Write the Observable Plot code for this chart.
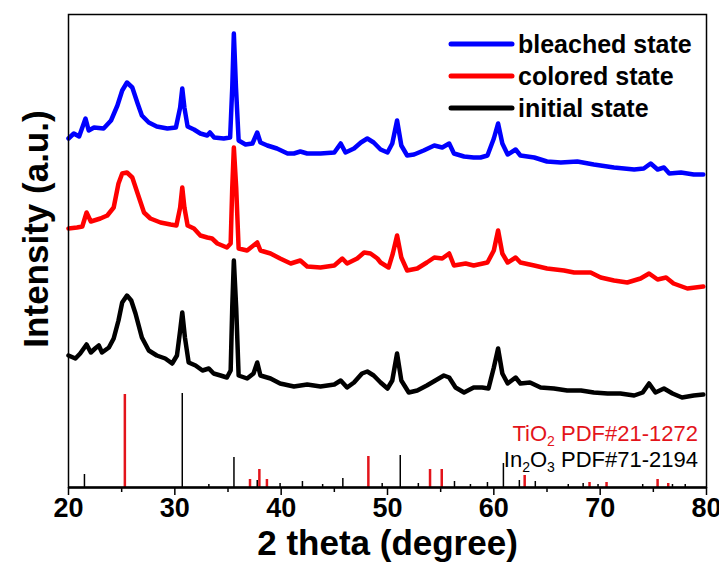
<!DOCTYPE html>
<html><head><meta charset="utf-8">
<script src="https://cdn.jsdelivr.net/npm/d3@7"></script>
<script src="https://cdn.jsdelivr.net/npm/@observablehq/plot@0.6"></script>
<style>body{margin:0;background:#fff}</style>
</head><body><div id="chart"></div>
<script>
// Series names
const seriesNames = ["bleached state", "colored state", "initial state"];
const seriesColors = ["#0000ff", "#ff0000", "#000000"];

// Bleached state (blue)
const blueTheta = [20.0,20.5,21.0,21.6,21.9,22.4,23.3,24.0,24.6,25.05,25.5,26.0,26.5,26.9,27.55,28.3,29.3,30.1,30.5,30.7,30.9,31.2,31.8,32.4,33.05,33.3,33.7,34.6,35.2,35.4,35.55,35.75,36.0,36.65,37.3,37.75,38.05,38.7,39.6,40.6,41.2,41.8,42.45,43.7,45.0,45.6,46.05,46.85,47.5,48.1,48.7,49.35,50.0,50.45,50.9,51.3,51.85,52.5,53.4,54.4,55.15,55.8,56.25,57.2,58.1,58.75,59.4,60.0,60.4,60.8,61.3,62.05,62.5,63.8,65.0,66.3,67.85,69.4,71.3,73.2,74.1,74.75,75.4,76.0,76.5,77.6,78.8,79.7];
const blueI = [349,354,351,369,357,360,359,367,382,397,405,400,384,372,365,361,359,360,380,399,380,361,358,354,352,355,350,349,350,400,454,400,347,343,344,355,345,342,339,334,334,336,334,334,335,344,335,339,345,349,345,338,335,344,367,342,332,333,337,342,340,344,334,331,330,330,332,349,364,344,333,338,332,330,326,325,326,323,320,318,319,324,318,320,314,315,313,313];

// Colored state (red)
const redTheta = [20.0,20.8,21.3,21.7,22.1,23.0,23.65,24.25,24.7,25.05,25.5,26.0,26.5,27.1,27.7,28.65,29.6,30.15,30.5,30.7,30.9,31.2,31.8,32.4,33.05,33.5,34.0,34.9,35.25,35.4,35.55,35.77,36.0,36.8,37.75,38.05,39.0,39.9,40.9,41.8,42.45,43.7,45.0,45.75,46.2,47.15,47.8,48.4,49.05,49.35,50.1,50.5,50.9,51.3,51.85,52.8,53.7,54.4,55.15,55.8,56.25,57.35,58.1,59.4,60.0,60.4,60.8,61.3,62.05,62.5,63.8,65.0,66.6,67.55,69.1,70.05,71.3,72.55,73.8,74.6,75.4,76.2,76.9,78.2,79.7];
const redI = [259,260,261,275,266,269,272,280,304,314,315,310,294,275,269,265,263,262,280,300,280,262,259,252,250,249,244,240,244,300,340,300,239,237,245,237,234,229,224,227,221,220,222,229,224,229,235,234,229,225,220,234,252,230,217,219,225,230,229,234,222,224,222,225,237,257,234,225,230,225,222,219,217,215,215,210,207,205,209,214,208,210,204,199,201];

// Initial state (black)
const blackTheta = [20.0,20.65,21.1,21.7,22.1,22.5,22.85,23.15,23.8,24.25,24.7,25.05,25.5,25.9,26.3,26.9,27.55,28.3,29.1,29.75,30.2,30.5,30.7,30.95,31.3,31.95,32.6,33.2,33.65,34.3,34.9,35.25,35.4,35.55,35.77,36.0,36.8,37.4,37.75,38.05,39.0,39.9,41.2,42.45,43.7,45.0,45.6,46.2,46.85,47.6,48.1,48.7,49.35,50.0,50.45,50.9,51.3,52.0,52.8,53.7,54.5,55.3,55.8,56.4,57.2,58.1,58.9,59.5,60.0,60.4,60.8,61.3,62.05,62.5,63.4,64.4,65.65,66.9,68.2,69.4,70.7,71.9,73.2,74.0,74.6,75.2,76.0,76.8,77.7,78.8,79.7];
const blackI = [132,129,134,143,135,139,142,135,140,149,167,185,192,187,174,150,137,132,129,124,132,157,175,150,125,122,117,119,114,112,110,117,180,227,180,112,109,114,125,112,109,104,101,103,101,103,107,100,105,114,116,112,105,99,107,134,107,95,97,102,107,112,110,100,95,100,100,99,120,139,114,104,110,104,105,100,99,97,97,95,94,94,92,95,104,95,99,94,90,92,93];

// Reference patterns
const tio2Theta = [25.3,37.07,37.95,38.66,48.2,54.0,55.1,62.9,69.0,70.6,75.4,76.4];
const tio2I = [93,8,18,8,31,18,18,12,5,5,8,4];
const in2o3Theta = [21.5,30.7,33.2,35.56,37.75,39.9,42.0,43.9,45.8,49.5,51.2,52.9,56.3,57.8,59.4,60.9,62.4,63.9,67.0,68.4,69.8,74.0,76.8,78.0];
const in2o3I = [13,94,3,30,7,4,6,3,9,4,32,4,6,3,5,24,7,6,3,4,3,3,3,3];

const majorTicks = [20,30,40,50,60,70,80];
const minorTicks = [25,35,45,55,65,75];

const toRows = (xs, ys, name) => xs.map((x, i) => ({theta: x, I: ys[i], series: name}));
const curves = [
  ...toRows(blueTheta, blueI, seriesNames[0]),
  ...toRows(redTheta, redI, seriesNames[1]),
  ...toRows(blackTheta, blackI, seriesNames[2])
];
const tio2 = toRows(tio2Theta, tio2I, "TiO2");
const in2o3 = toRows(in2o3Theta, in2o3I, "In2O3");

const sans = "'Liberation Sans', Arial, sans-serif";

const chart = Plot.plot({
  width: 719, height: 564,
  marginLeft: 68, marginRight: 13, marginTop: 14, marginBottom: 77,
  style: {fontFamily: sans, background: "#fff"},
  x: {domain: [20, 80]},
  y: {domain: [0, 473], axis: null},
  color: {domain: seriesNames, range: seriesColors},
  marks: [
    Plot.ruleX(in2o3, {x: "theta", y1: 0, y2: "I", stroke: "#000", strokeWidth: 1.5}),
    Plot.ruleX(tio2, {x: "theta", y1: 0, y2: "I", stroke: "#e3141b", strokeWidth: 2.5}),
    Plot.line(curves, {x: "theta", y: "I", z: "series", stroke: "series", strokeWidth: 4.5, strokeLinejoin: "round", strokeLinecap: "round"}),
    Plot.frame({stroke: "#000", strokeWidth: 1.5}),
    Plot.ruleY([0], {stroke: "#000", strokeWidth: 2.5}),
    Plot.axisX({ticks: minorTicks, tickSize: 5, text: null, label: null, strokeWidth: 1.5}),
    Plot.axisX({ticks: majorTicks, tickSize: 8, tickPadding: 2, tickFormat: d => String(d), label: null,
      fontSize: 27, fontWeight: "bold", fill: "#000", strokeWidth: 1.5, ariaLabel: "xticks"}),
    Plot.text(["2 theta (degree)"], {frameAnchor: "bottom", dy: 67, text: d => d, ariaLabel: "xtitle",
      fontSize: 35, fontWeight: "bold", fill: "#000"}),
    Plot.text(["Intensity (a.u.)"], {frameAnchor: "left", dx: -32, dy: -22, rotate: -90, textAnchor: "middle", text: d => d,
      fontSize: 35, fontWeight: "bold", fill: "#000"})
  ]
});
document.getElementById("chart").appendChild(chart);

const svg = d3.select(chart);

// Narrow-looking bold text, as in the reference
function squeeze(sel, k, shift) {
  sel.each(function (d, i, nodes) {
    const x = +this.getAttribute("x") || 0, y = +this.getAttribute("y") || 0;
    const t = this.getAttribute("transform") || "";
    const s = shift ? shift(i, nodes.length) : 0;
    this.setAttribute("transform", `${t} translate(${x + s},${y}) scale(${k},1) translate(${-x},${-y})`);
  });
}
// keep the last tick label ("80") inside the picture edge
squeeze(svg.selectAll('g[aria-label="xticks"] text'), 0.8, (i, n) => (i === n - 1 ? -2 : 0));
squeeze(svg.selectAll('g[aria-label="xtitle"] text'), 0.92);

// Legend
const legend = svg.append("g");
seriesNames.forEach((name, i) => {
  const y = 44 + i * 32;
  legend.append("line").attr("x1", 451).attr("x2", 512).attr("y1", y).attr("y2", y)
    .attr("stroke", seriesColors[i]).attr("stroke-width", 5).attr("stroke-linecap", "round");
  legend.append("text").attr("x", 518).attr("y", y).attr("dy", "0.36em").attr("text-anchor", "start")
    .attr("font-size", 25).attr("font-weight", "bold").attr("fill", "#000")
    .attr("font-family", sans).text(name);
});

// Reference pattern labels
function refLabel(y, color, parts) {
  const t = svg.append("text").attr("x", 698).attr("y", y).attr("text-anchor", "end")
    .attr("font-size", 22).attr("fill", color).attr("font-family", sans);
  let shifted = false;
  parts.forEach(([s, sub]) => {
    const ts = t.append("tspan").text(s);
    if (sub) { ts.attr("font-size", 14).attr("dy", 5); shifted = true; }
    else if (shifted) { ts.attr("dy", -5); shifted = false; }
  });
}
refLabel(441, "#e3141b", [["TiO"], ["2", true], [" PDF#21-1272"]]);
refLabel(467, "#000", [["In"], ["2", true], ["O"], ["3", true], [" PDF#71-2194"]]);
</script>
</body></html>
